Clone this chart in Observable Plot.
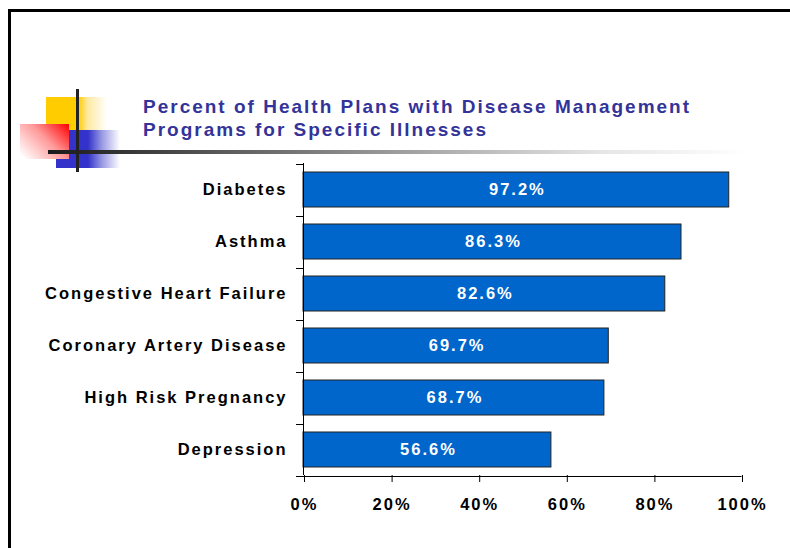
<!DOCTYPE html>
<html>
<head>
<meta charset="utf-8">
<script src="https://cdn.jsdelivr.net/npm/d3@7"></script>
<script src="https://cdn.jsdelivr.net/npm/@observablehq/plot@0.6"></script>
<style>
  html, body { margin: 0; padding: 0; background: #fff; }
  #page { position: relative; width: 790px; height: 548px; overflow: hidden; background: #fff;
          font-family: "Liberation Sans", Arial, sans-serif; }
  .abs { position: absolute; }
  #frame { left: 8px; top: 9px; width: 800px; height: 560px; border-left: 3px solid #000; border-top: 3px solid #000; }
  #yellow { left: 46px; top: 97px; width: 61px; height: 34px; z-index: 2;
            background: linear-gradient(to right, #FFCC00 0%, #FFCC00 53%, #FFE9A0 68%, #FFFFFF 100%); }
  #blue { left: 56px; top: 130px; width: 64px; height: 38px; z-index: 3;
          background: linear-gradient(to right, #3333CC 0%, #3333CC 50%, #9A9AE4 72%, #FFFFFF 100%); }
  #red { left: 20px; top: 124px; width: 49px; height: 35px; z-index: 4;
         background: linear-gradient(225deg, #FF0000 0%, #FF9A9A 45%, #FFFFFF 95%); }
  #hline { left: 48px; top: 150px; width: 700px; height: 4px; z-index: 5;
           background: linear-gradient(to right, #1a1a1a 0%, #333 10%, #aaa 55%, #e5e5e5 79%, #fff 100%); }
  #vline { left: 76px; top: 89px; width: 3px; height: 83px; background: #222; z-index: 6; }
  #title { left: 143px; top: 95px; z-index: 7; color: #333399; font-weight: bold; font-size: 19px;
           line-height: 23px; letter-spacing: 2px; white-space: nowrap; }
  #chart { left: 0; top: 155px; z-index: 1; }
</style>
</head>
<body>
<div id="page">
  <div id="frame" class="abs"></div>
  <div id="chart" class="abs"></div>
  <div id="yellow" class="abs"></div>
  <div id="blue" class="abs"></div>
  <div id="red" class="abs"></div>
  <div id="hline" class="abs"></div>
  <div id="vline" class="abs"></div>
  <div id="title" class="abs">Percent of Health Plans with Disease Management<br>Programs for Specific Illnesses</div>
</div>
<script>
const categories = ["Diabetes", "Asthma", "Congestive Heart Failure", "Coronary Artery Disease", "High Risk Pregnancy", "Depression"];
const values = [97.2, 86.3, 82.6, 69.7, 68.7, 56.6];
const xTicks = [0, 20, 40, 60, 80, 100];
const xTickLabels = ["0%", "20%", "40%", "60%", "80%", "100%"];

const data = categories.map((c, i) => ({category: c, value: values[i]}));

function boundaryTicks(index, scales, vals, dims) {
  const x = scales.x, y = scales.y;
  const n = categories.length;
  const step = typeof y.step === "function" ? y.step() : (dims.height - dims.marginTop - dims.marginBottom) / n;
  const bw = typeof y.bandwidth === "function" ? y.bandwidth() : step * 0.67;
  const x0 = x(0);
  const g = d3.create("svg:g").attr("stroke", "#000").attr("stroke-width", 1);
  const ys = categories.map(c => y(c) + bw / 2 - step / 2);
  ys.push(y(categories[n - 1]) + bw / 2 + step / 2);
  for (const yy of ys) {
    g.append("line").attr("x1", x0 - 7).attr("x2", x0).attr("y1", Math.round(yy) + 0.5).attr("y2", Math.round(yy) + 0.5);
  }
  const yb = Math.round(ys[ys.length - 1]) + 0.5;
  g.append("line").attr("x1", x0 - 7).attr("x2", x(100) + 0.5).attr("y1", yb).attr("y2", yb);
  return g.node();
}

const chart = Plot.plot({
  width: 790,
  height: 375,
  marginTop: 8,
  marginBottom: 55,
  marginLeft: 303,
  marginRight: 49,
  style: {
    background: "transparent",
    color: "#000",
    fontFamily: "'Liberation Sans', Arial, sans-serif",
    fontSize: "16.5px",
    fontWeight: "bold",
    letterSpacing: "2px",
    overflow: "visible"
  },
  x: {domain: [0, 100], axis: null},
  y: {domain: categories, paddingInner: 0.33, paddingOuter: 0.165, axis: null},
  marks: [
    Plot.barX(data, {x: "value", y: "category", fill: "#0066CC", stroke: "#222", strokeWidth: 1}),
    Plot.text(data, {x: d => d.value / 2, y: "category", text: d => d.value.toFixed(1) + "%", fill: "white", dx: 1}),
    Plot.ruleX([0], {stroke: "#000", strokeWidth: 1}),
    Plot.axisX({ticks: xTicks, tickFormat: d => xTickLabels[xTicks.indexOf(d)], tickSize: 7, tickPadding: 16, label: null, stroke: "#000", fill: "#000", dx: 1}),
    Plot.axisY({tickSize: 0, tickPadding: 16, label: null, fill: "#000"}),
    boundaryTicks
  ]
});
document.getElementById("chart").appendChild(chart);
</script>
</body>
</html>
